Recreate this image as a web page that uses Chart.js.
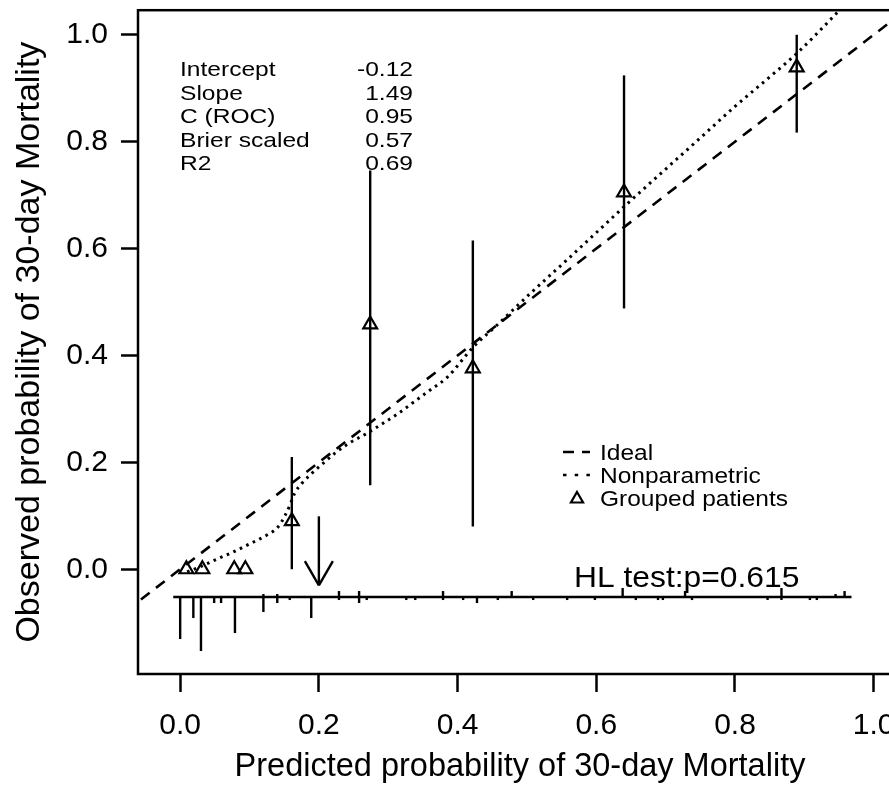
<!DOCTYPE html>
<html>
<head>
<meta charset="utf-8">
<script src="https://cdn.jsdelivr.net/npm/chart.js@4.4.1/dist/chart.umd.min.js"></script>
<style>
  html, body { margin: 0; padding: 0; background: #fff; overflow: hidden; }
  #wrap { position: relative; width: 920px; height: 808px; }
</style>
</head>
<body>
<div id="wrap"><canvas id="calib"></canvas></div>
<script>
// ---- data ----
const xTicks = [0, 0.2, 0.4, 0.6, 0.8, 1.0];
const yTicks = [0, 0.2, 0.4, 0.6, 0.8, 1.0];

// grouped patients (triangles) + 95% CI bars
const groupX  = [0.009, 0.032, 0.078, 0.094, 0.161, 0.274, 0.422, 0.640, 0.889];
const groupY  = [0, 0, 0, 0, 0.090, 0.458, 0.376, 0.705, 0.939];
const groupLo = [null, null, null, null, 0.0, 0.157, 0.080, 0.488, 0.817];
const groupHi = [null, null, null, null, 0.210, 0.746, 0.615, 0.924, 1.0];

// nonparametric (loess) calibration curve
const npX = [0.010, 0.033, 0.053, 0.076, 0.101, 0.125, 0.141, 0.151, 0.159, 0.165, 0.175, 0.187,
             0.206, 0.226, 0.245, 0.269, 0.290, 0.315, 0.336, 0.360, 0.385, 0.422, 0.457, 0.504,
             0.552, 0.601, 0.644, 0.696, 0.750, 0.800, 0.850, 0.889, 0.944, 0.968];
const npY = [-0.005, 0.007, 0.019, 0.032, 0.048, 0.064, 0.079, 0.100, 0.122, 0.142, 0.160, 0.176,
             0.198, 0.220, 0.237, 0.254, 0.271, 0.292, 0.312, 0.335, 0.359, 0.415, 0.457, 0.515,
             0.572, 0.631, 0.683, 0.744, 0.807, 0.866, 0.921, 0.965, 1.037, 1.070];

// ideal line y = x
const idealX = [-0.1, 1.1];

// distribution of predictions (rug histogram): counts of non-events (down) / events (up)
const rugX = [0.000, 0.019, 0.030, 0.049, 0.059, 0.079, 0.120, 0.140, 0.158, 0.189, 0.229, 0.258,
              0.269, 0.326, 0.339, 0.379, 0.408, 0.428, 0.458, 0.478, 0.509, 0.558, 0.598, 0.638,
              0.657, 0.689, 0.696, 0.728, 0.738, 0.847, 0.867, 0.908, 0.918, 0.945, 0.958];
const rugNonEvents = [14, 7, 18, 2, 2, 12, 5, 2, 1, 7, 1, 2,
                      1, 1, 1, 1, 1, 2, 1, 0, 1, 1, 1, 0,
                      1, 1, 1, 0, 1, 1, 1, 1, 1, 0, 0];
const rugEvents    = [0, 0, 0, 0, 0, 0, 1, 1, 0, 0, 2, 2,
                      0, 0, 0, 2, 0, 0, 0, 2, 0, 0, 0, 3,
                      0, 0, 0, 2, 0, 0, 3, 0, 0, 1, 2];
const rugBaseY = -0.052;

// arrow marker
const arrowX = 0.2;
const arrowFrom = 0.099;
const arrowTo = -0.030;

const statLabels = ['Intercept', 'Slope', 'C (ROC)', 'Brier scaled', 'R2'];
const statValues = ['-0.12', '1.49', '0.95', '0.57', '0.69'];
const legendLabels = ['Ideal', 'Nonparametric', 'Grouped patients'];
const hlText = 'HL test:p=0.615';

// ---- helpers ----
const FONT = "'Liberation Sans', Arial, Helvetica, sans-serif";

function txt(ctx, s, x, y, size, sx, align) {
  ctx.save();
  ctx.font = size + 'px ' + FONT;
  ctx.textAlign = align || 'left';
  ctx.textBaseline = 'alphabetic';
  ctx.fillStyle = '#000';
  ctx.translate(x, y);
  ctx.scale(sx, 1);
  ctx.fillText(s, 0, 0);
  ctx.restore();
}

function tri(ctx, cx, cy, r) {
  ctx.beginPath();
  ctx.moveTo(cx, cy - r);
  ctx.lineTo(cx + r * 0.866, cy + r / 2);
  ctx.lineTo(cx - r * 0.866, cy + r / 2);
  ctx.closePath();
  ctx.stroke();
}

function seg(ctx, x1, y1, x2, y2) {
  ctx.beginPath();
  ctx.moveTo(x1, y1);
  ctx.lineTo(x2, y2);
  ctx.stroke();
}

// ---- extras drawn on top: box, CI bars, rug, arrow, text ----
const extras = {
  id: 'calibExtras',
  afterDatasetsDraw(chart) {
    const { ctx, chartArea: a, scales: { x, y } } = chart;
    ctx.save();
    ctx.strokeStyle = '#000';
    ctx.lineCap = 'butt';

    // box
    ctx.lineWidth = 2.5;
    ctx.strokeRect(a.left, a.top, a.right - a.left, a.bottom - a.top);

    // CI bars
    ctx.lineWidth = 2.4;
    groupX.forEach((gx, i) => {
      if (groupLo[i] == null) return;
      const px = x.getPixelForValue(gx);
      seg(ctx, px, y.getPixelForValue(groupLo[i]), px, y.getPixelForValue(groupHi[i]));
    });

    // rug histogram
    const base = y.getPixelForValue(rugBaseY);
    const perCount = 3;
    ctx.lineWidth = 2.4;
    seg(ctx, x.getPixelForValue(rugX[0] - 0.01), base, x.getPixelForValue(rugX[rugX.length - 1] + 0.01), base);
    rugX.forEach((rx, i) => {
      const px = x.getPixelForValue(rx);
      if (rugNonEvents[i] > 0) seg(ctx, px, base, px, base + rugNonEvents[i] * perCount);
      if (rugEvents[i] > 0) seg(ctx, px, base, px, base - rugEvents[i] * perCount);
    });

    // arrow
    const ax = x.getPixelForValue(arrowX);
    const ay1 = y.getPixelForValue(arrowFrom);
    const ay2 = y.getPixelForValue(arrowTo);
    ctx.lineWidth = 2.4;
    seg(ctx, ax, ay1, ax, ay2);
    const hl = 28, ang = Math.PI / 6;
    seg(ctx, ax - hl * Math.sin(ang), ay2 - hl * Math.cos(ang), ax, ay2);
    seg(ctx, ax + hl * Math.sin(ang), ay2 - hl * Math.cos(ang), ax, ay2);

    // stats block
    statLabels.forEach((s, i) => {
      const by = 76 + i * 23.5;
      txt(ctx, s, 180, by, 21, 1.17, 'left');
      txt(ctx, statValues[i], 413, by, 21, 1.17, 'right');
    });

    // legend
    const lx1 = 563, lx2 = 590;
    ctx.lineWidth = 2.5;
    ctx.setLineDash([11, 8]);
    seg(ctx, lx1, 452, lx2, 452);
    ctx.setLineDash([3.5, 8.2]);
    seg(ctx, lx1, 475, lx2, 475);
    ctx.setLineDash([]);
    ctx.lineWidth = 2.2;
    tri(ctx, 577, 499, 7);
    legendLabels.forEach((s, i) => txt(ctx, s, 600, 460 + i * 23, 21.5, 1.14, 'left'));

    // HL test
    txt(ctx, hlText, 574, 587, 30, 1.06, 'left');

    ctx.restore();
  }
};

new Chart(document.getElementById('calib'), {
  type: 'scatter',
  data: {
    datasets: [
      {
        label: 'Ideal',
        data: idealX.map(v => ({ x: v, y: v })),
        showLine: true,
        borderColor: '#000',
        borderWidth: 2.6,
        borderDash: [11, 8],
        pointRadius: 0
      },
      {
        label: 'Nonparametric',
        data: npX.map((v, i) => ({ x: v, y: npY[i] })),
        showLine: true,
        borderColor: '#000',
        borderWidth: 3,
        borderDash: [2.6, 4.6],
        cubicInterpolationMode: 'monotone',
        pointRadius: 0
      },
      {
        label: 'Grouped patients',
        data: groupX.map((v, i) => ({ x: v, y: groupY[i] })),
        pointStyle: 'triangle',
        pointRadius: 8,
        borderWidth: 2.2,
        borderColor: '#000',
        backgroundColor: 'rgba(0,0,0,0)'
      }
    ]
  },
  options: {
    responsive: true,
    maintainAspectRatio: false,
    animation: false,
    devicePixelRatio: 1,
    layout: { padding: { left: 0, top: 10, right: 18, bottom: 0 } },
    plugins: { legend: { display: false }, tooltip: { enabled: false } },
    scales: {
      x: {
        type: 'linear',
        min: -0.0608,
        max: 1.0408,
        afterBuildTicks: s => { s.ticks = xTicks.map(v => ({ value: v })); },
        afterFit: s => { s.height = 134; s.paddingLeft = 0; s.paddingRight = 0; },
        grid: { drawOnChartArea: false, drawTicks: true, tickLength: 18, tickWidth: 2.5, tickColor: '#000' },
        border: { display: false },
        ticks: {
          autoSkip: false, maxRotation: 0, padding: 16,
          color: '#000', font: { family: FONT, size: 30 },
          callback: v => v.toFixed(1)
        },
        title: {
          display: true, text: 'Predicted probability of 30-day Mortality',
          color: '#000', font: { family: FONT, size: 32.5 },
          padding: { top: 0, bottom: 21 }
        }
      },
      y: {
        type: 'linear',
        min: -0.196,
        max: 1.046,
        afterBuildTicks: s => { s.ticks = yTicks.map(v => ({ value: v })); },
        afterFit: s => { s.width = 138; s.paddingTop = 0; s.paddingBottom = 0; },
        grid: { drawOnChartArea: false, drawTicks: true, tickLength: 17, tickWidth: 2.5, tickColor: '#000' },
        border: { display: false },
        ticks: {
          autoSkip: false, padding: 13,
          color: '#000', font: { family: FONT, size: 30 },
          callback: v => v.toFixed(1)
        },
        title: {
          display: true, text: 'Observed probability of 30-day Mortality',
          color: '#000', font: { family: FONT, size: 34 },
          padding: { top: 9, bottom: 0 }
        }
      }
    }
  },
  plugins: [extras]
});
</script>
</body>
</html>
